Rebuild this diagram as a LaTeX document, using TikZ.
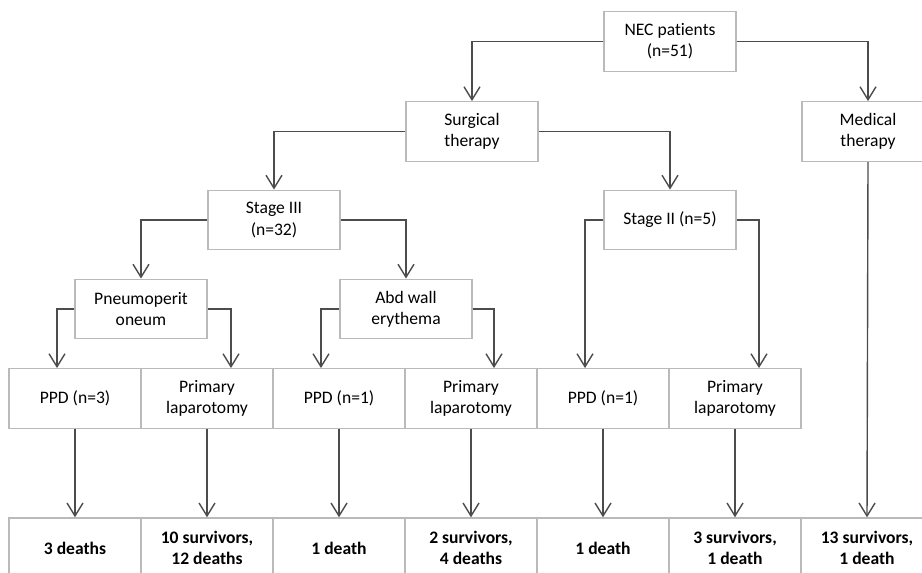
\documentclass[tikz,border=0pt]{standalone}
\usepackage{fontspec}
\setmainfont[Ligatures=NoCommon]{Carlito}
\usetikzlibrary{arrows.meta,calc}

\tikzset{
  box/.style={draw=black!27, line width=0.8pt, minimum width=2.64cm, minimum height=1.19cm,
    align=center, inner sep=2pt, font=\fontsize{10}{12}\selectfont},
  outbox/.style={box, minimum height=1.2cm, font=\fontsize{10}{12}\selectfont\bfseries},
  arr/.style={draw=black!70, line width=0.8pt, -{Straight Barb[length=0.26cm, width=0.32cm]}},
}

\begin{document}
\begin{tikzpicture}[x=0.02cm, y=-0.02cm]
  \useasboundingbox (0,0) rectangle (922,573);
  \clip (0,0) rectangle (922,573);
  % upper levels
  \node[box] (nec)  at (670,41.5)  {NEC patients\\(n=51)};
  \node[box] (surg) at (472,131.5) {Surgical\\therapy};
  \node[box] (med)  at (868,131.5) {Medical\\therapy};
  \node[box] (st3)  at (274,220)   {Stage III\\(n=32)};
  \node[box] (st2)  at (670,220)   {Stage II (n=5)};
  \node[box] (pneu) at (141,309)   {Pneumoperit\\oneum};
  \node[box] (abd)  at (406,309)   {Abd wall\\erythema};
  % procedures
  \foreach \i/\lab in {1/{PPD (n=3)}, 2/{Primary\\laparotomy}, 3/{PPD (n=1)},
      4/{Primary\\laparotomy}, 5/{PPD (n=1)}, 6/{Primary\\laparotomy}}{
    \node[box] (p\i) at ({75+132*(\i-1)},398.5) {\lab};
  }
  % outcomes
  \foreach \i/\lab in {1/{3 deaths}, 2/{10 survivors,\\12 deaths}, 3/{1 death},
      4/{2 survivors,\\4 deaths}, 5/{1 death}, 6/{3 survivors,\\1 death},
      7/{13 survivors,\\1 death}}{
    \node[outbox] (o\i) at ({75+132*(\i-1)},548) {\lab};
  }
  % connectors
  \draw[arr] (nec.west) -| (surg.north);
  \draw[arr] (nec.east) -| (med.north);
  \draw[arr] (surg.west) -| (st3.north);
  \draw[arr] (surg.east) -| (st2.north);
  \draw[arr] (st3.west) -| (pneu.north);
  \draw[arr] (st3.east) -| (abd.north);
  \draw[arr] (pneu.west) -| ($(p1.north)+(-18,0)$);
  \draw[arr] (pneu.east) -| ($(p2.north)+(24,0)$);
  \draw[arr] (abd.west) -| ($(p3.north)+(-18,0)$);
  \draw[arr] (abd.east) -| ($(p4.north)+(23,0)$);
  \draw[arr] (st2.west) -| ($(p5.north)+(-18,0)$);
  \draw[arr] (st2.east) -| ($(p6.north)+(24,0)$);
  \foreach \i in {1,...,6}{ \draw[arr] (p\i.south) -- (o\i.north); }
  \draw[arr] (med.south) -- (o7.north);
\end{tikzpicture}
\end{document}
